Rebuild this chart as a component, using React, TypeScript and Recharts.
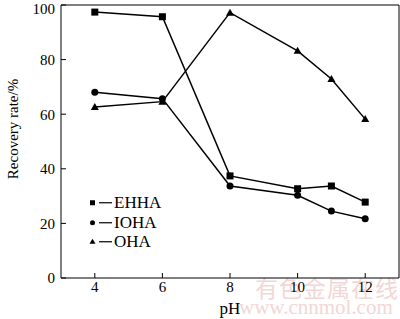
import React from 'react';
import {
  LineChart,
  Line,
  XAxis,
  YAxis,
  ReferenceLine,
  Legend,
} from 'recharts';

const phValues = [4, 6, 8, 10, 11, 12];
const ehha = [97.4, 95.7, 37.4, 32.7, 33.7, 27.8];
const ioha = [68.0, 65.7, 33.7, 30.3, 24.5, 21.7];
const oha = [62.6, 64.6, 97.2, 83.2, 72.9, 58.2];
const xTicks = [4, 6, 8, 10, 12];
const yTicks = [0, 20, 40, 60, 80, 100];

const seriesNames = ['EHHA', 'IOHA', 'OHA'];
const seriesShapes: Record<string, 'square' | 'circle' | 'triangle'> = {
  EHHA: 'square',
  IOHA: 'circle',
  OHA: 'triangle',
};

const data = phValues.map((ph, i) => ({
  ph,
  EHHA: ehha[i],
  IOHA: ioha[i],
  OHA: oha[i],
}));

const FONT = 'Liberation Serif, Tinos, DejaVu Serif, serif';

const Marker = ({ cx, cy, shape, size }: { cx: number; cy: number; shape: string; size: number }) => {
  const h = size / 2;
  if (shape === 'square') {
    return <rect x={cx - h} y={cy - h} width={size} height={size} fill="#000" />;
  }
  if (shape === 'circle') {
    return <circle cx={cx} cy={cy} r={h} fill="#000" />;
  }
  return (
    <polygon
      points={`${cx},${cy - h - 0.5} ${cx - h - 0.5},${cy + h - 0.5} ${cx + h + 0.5},${cy + h - 0.5}`}
      fill="#000"
    />
  );
};

const renderDot = (shape: string) => (props: any) => (
  <Marker key={`${shape}-${props.index}`} cx={props.cx} cy={props.cy} shape={shape} size={7} />
);

const LegendBox = () => (
  <div style={{ fontFamily: FONT, fontSize: 17, color: '#000' }}>
    {seriesNames.map((name) => (
      <div key={name} style={{ display: 'flex', alignItems: 'center', height: 19.5, lineHeight: '19.5px' }}>
        <svg width={26} height={19.5} style={{ display: 'block' }}>
          <Marker cx={4.5} cy={9.75} shape={seriesShapes[name]} size={5} />
          <line x1={11} x2={24} y1={9.75} y2={9.75} stroke="#000" strokeWidth={1.2} />
        </svg>
        <span>{name}</span>
      </div>
    ))}
  </div>
);

const YLabel = ({ viewBox }: any) => {
  const x = viewBox.x + 13;
  const y = viewBox.y + 124;
  return (
    <text
      x={x}
      y={y}
      transform={`rotate(-90 ${x} ${y})`}
      textAnchor="middle"
      dominantBaseline="central"
      style={{ fontFamily: FONT, fontSize: 15 }}
      fill="#000"
    >
      Recovery rate/%
    </text>
  );
};

export default function App() {
  return (
    <div style={{ position: 'absolute', left: 0, top: 0, width: 400, height: 319, background: '#fff', fontFamily: FONT }}>
      <LineChart
        width={400}
        height={319}
        data={data}
        margin={{ top: 5, right: 1, left: 0, bottom: 0 }}
        style={{ fontFamily: FONT }}
      >
        <text x={255} y={297} style={{ fontFamily: 'Noto Sans CJK SC, sans-serif', fontSize: 23 }} fill="#f3d6d6" letterSpacing={1}>
          有色金属在线
        </text>
        <text x={239} y={314} style={{ fontFamily: FONT, fontSize: 21 }} fill="#f3d6d6">
          www.cnnmol.com
        </text>
        <XAxis
          dataKey="ph"
          type="number"
          domain={[3, 13]}
          ticks={xTicks}
          height={41}
          stroke="#000"
          tickSize={-5}
          tickMargin={8}
          tick={{ fill: '#000', fontSize: 15, style: { fontFamily: FONT } }}
          label={{ value: 'pH', position: 'insideBottom', offset: 5, fontSize: 17, fill: '#000', style: { fontFamily: FONT } }}
        />
        <YAxis
          type="number"
          domain={[0, 100]}
          ticks={yTicks}
          width={61}
          stroke="#000"
          tickSize={-5}
          tickMargin={11}
          tick={{ fill: '#000', fontSize: 15, style: { fontFamily: FONT } }}
          label={<YLabel />}
        />
        <ReferenceLine y={100} stroke="#000" strokeWidth={1} />
        <ReferenceLine x={13} stroke="#000" strokeWidth={1} />
        <Legend
          layout="vertical"
          align="center"
          verticalAlign="middle"
          wrapperStyle={{ left: 88, top: 193, width: 'auto' }}
          content={<LegendBox />}
        />
        {seriesNames.map((name) => (
          <Line
            key={name}
            type="linear"
            dataKey={name}
            stroke="#000"
            strokeWidth={1.5}
            dot={renderDot(seriesShapes[name])}
            activeDot={false}
            isAnimationActive={false}
          />
        ))}
      </LineChart>
    </div>
  );
}
